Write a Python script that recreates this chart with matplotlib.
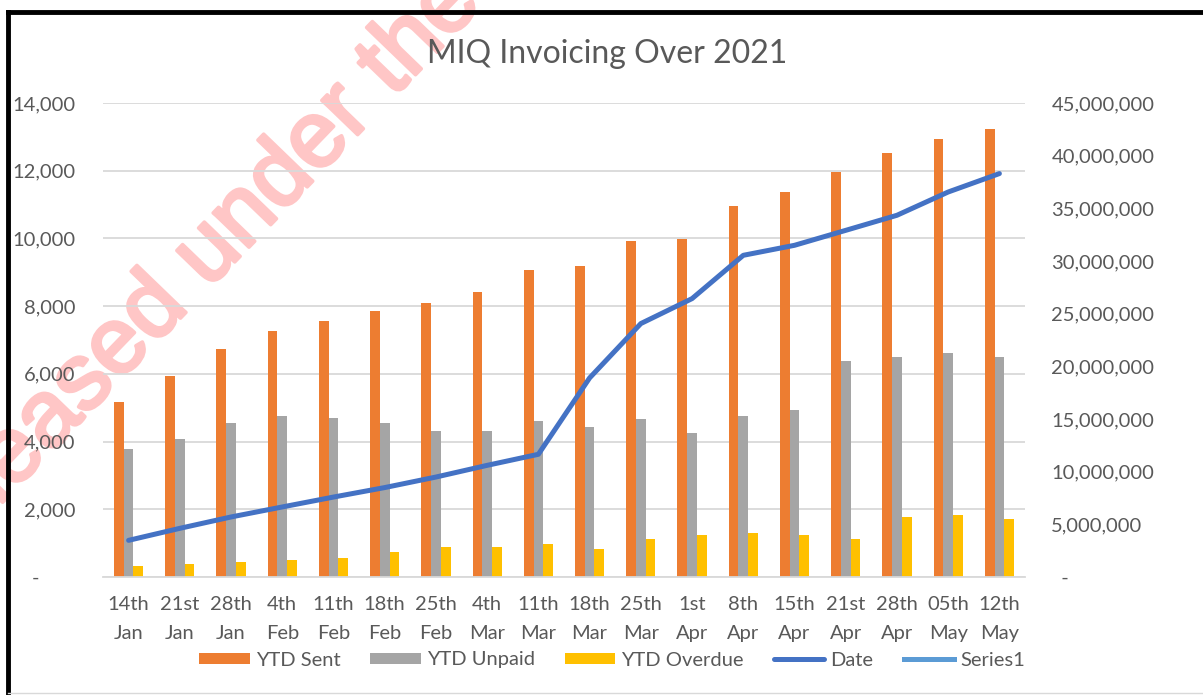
import numpy as np
import matplotlib
matplotlib.use("Agg")
import matplotlib.pyplot as plt
import matplotlib.patheffects as pe
from matplotlib.ticker import FuncFormatter, MultipleLocator
from matplotlib.lines import Line2D

categories = ["14th\nJan", "21st\nJan", "28th\nJan", "4th\nFeb", "11th\nFeb", "18th\nFeb",
              "25th\nFeb", "4th\nMar", "11th\nMar", "18th\nMar", "25th\nMar", "1st\nApr",
              "8th\nApr", "15th\nApr", "21st\nApr", "28th\nApr", "05th\nMay", "12th\nMay"]
ytd_sent = [5170, 5940, 6730, 7270, 7560, 7860, 8090, 8420, 9070, 9190,
            9920, 9980, 10960, 11370, 11960, 12520, 12940, 13230]
ytd_unpaid = [3790, 4080, 4540, 4770, 4710, 4540, 4300, 4300, 4600, 4420,
              4660, 4250, 4770, 4930, 6390, 6510, 6620, 6510]
ytd_overdue = [320, 375, 435, 495, 550, 730, 900, 900, 960, 840,
               1120, 1240, 1300, 1240, 1120, 1760, 1820, 1700]
date_series = [3.48e6, 4.62e6, 5.70e6, 6.65e6, 7.59e6, 8.49e6, 9.49e6, 10.6e6, 11.65e6, 18.9e6,
               24.06e6, 26.43e6, 30.54e6, 31.49e6, 32.91e6, 34.34e6, 36.55e6, 38.3e6]
series1 = []

TXT = "#595959"
FONT = "Lato"
plt.rcParams['font.family'] = [FONT, 'DejaVu Sans']

fig = plt.figure(figsize=(12.03, 6.95), dpi=100)
W, H = 1203, 695

# watermark (behind the transparent axes)
WM = "#FFC6C6"
fig.text(-85 / W, 1 - 593 / H, "Released under the",
         fontsize=67.5, family="Liberation Sans", color=WM,
         rotation=46, rotation_mode='anchor', ha='left', va='baseline', zorder=-5,
         path_effects=[pe.withStroke(linewidth=2.6, foreground=WM)])

# frame
fig.add_artist(Line2D([8 / W, 8 / W], [1 - 12 / H, 1 - 693 / H], color='black', lw=3.5,
                      transform=fig.transFigure))
fig.add_artist(Line2D([8 / W, 1.0], [1 - 12 / H, 1 - 12 / H], color='black', lw=3.5,
                      transform=fig.transFigure))
fig.add_artist(Line2D([8 / W, 1.0], [1 - 692.5 / H, 1 - 692.5 / H], color='#D9D9D9', lw=1,
                      transform=fig.transFigure))

ax = fig.add_axes([103 / W, 118 / H, 922 / W, 474 / H])
ax.set_facecolor('none')
x = np.arange(len(categories))
w = 0.19
b1 = ax.bar(x - w, ytd_sent, w, color='#ED7D31', label='YTD Sent')
b2 = ax.bar(x, ytd_unpaid, w, color='#A5A5A5', label='YTD Unpaid')
b3 = ax.bar(x + w, ytd_overdue, w, color='#FFC000', label='YTD Overdue')
ax.set_xlim(-0.5, len(categories) - 0.5)
ax.set_ylim(0, 14000)
ax.yaxis.set_major_locator(MultipleLocator(2000))
ax.yaxis.set_major_formatter(FuncFormatter(lambda v, p: '-       ' if v == 0 else f'{v:,.0f}'))
ax.set_axisbelow(True)
ax.yaxis.grid(True, color='#D9D9D9', lw=1.3)
for s in ['top', 'left', 'right']:
    ax.spines[s].set_visible(False)
ax.spines['bottom'].set_color('#D9D9D9')
ax.spines['bottom'].set_linewidth(1.3)
ax.set_xticks(x)
ax.set_xticklabels(categories, linespacing=1.85)
ax.tick_params(axis='both', length=0, labelsize=14.5, labelcolor=TXT)
ax.tick_params(axis='x', pad=14)
ax.tick_params(axis='y', pad=20)

ax2 = ax.twinx()
ax2.set_facecolor('none')
ax2.set_ylim(0, 45e6)
ax2.yaxis.set_major_locator(MultipleLocator(5e6))
ax2.yaxis.set_major_formatter(FuncFormatter(lambda v, p: '  -' if v == 0 else f'{v:,.0f}'))
ax2.tick_params(axis='y', length=0, labelsize=14.5, labelcolor=TXT, pad=19)
for s in ax2.spines.values():
    s.set_visible(False)
l1, = ax2.plot(x, date_series, color='#4472C4', lw=3.6, solid_capstyle='round',
               solid_joinstyle='round', label='Date')
l2, = ax2.plot(series1, series1, color='#5B9BD5', lw=3.6, label='Series1')

fig.text(607 / W, 1 - 54 / H, "MIQ Invoicing Over 2021", fontsize=23, color=TXT,
         ha='center', va='center')

fig.legend(handles=[b1, b2, b3, l1, l2], loc='center', ncol=5,
           bbox_to_anchor=(612 / W, 1 - 660 / H), frameon=False, fontsize=14.5,
           labelcolor=TXT, handlelength=2.5, handleheight=0.5, handletextpad=0.3,
           columnspacing=1.5)

fig.savefig("out.png", dpi=100)
